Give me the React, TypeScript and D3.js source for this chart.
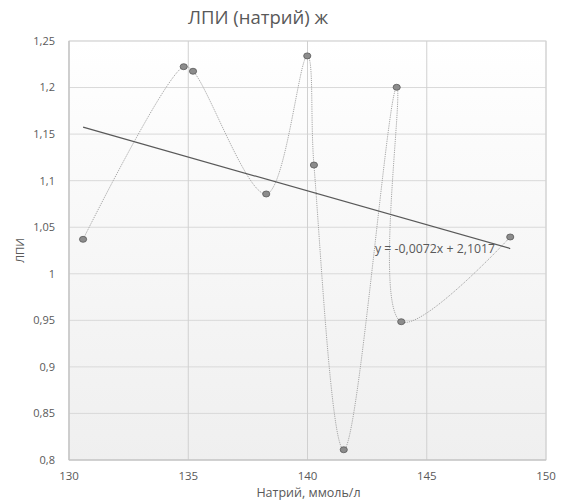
import React from "react";
import * as d3 from "d3";

const sodium = [130.59, 134.81, 135.2, 138.27, 139.99, 140.27, 141.52, 143.74, 143.93, 148.5];
const lpi = [1.037, 1.2224, 1.2175, 1.0857, 1.234, 1.1168, 0.811, 1.2003, 0.9485, 1.0395];
const xTicks = [130, 135, 140, 145, 150];
const yTicks = [0.8, 0.85, 0.9, 0.95, 1, 1.05, 1.1, 1.15, 1.2, 1.25];
const slope = -0.0072;
const intercept = 2.1017;
const titleText = "ЛПИ (натрий) ж";
const xTitle = "Натрий, ммоль/л";
const yTitle = "ЛПИ";
const equation = "y = -0,0072x + 2,1017";

const W = 571;
const H = 504;
const M = { left: 69, right: 546, top: 41, bottom: 460 };
const FONT = "'Open Sans', 'Noto Sans', sans-serif";
const TXT = "#595959";

const fmt = (v: number) => String(+v.toFixed(2)).replace(".", ",");

export default function App() {
  const x = d3.scaleLinear().domain([130, 150]).range([M.left, M.right]);
  const y = d3.scaleLinear().domain([0.8, 1.25]).range([M.bottom, M.top]);
  const pts: [number, number][] = sodium.map((s, i) => [s, lpi[i]]);
  const line = d3
    .line<[number, number]>()
    .x((d) => x(d[0]))
    .y((d) => y(d[1]))
    .curve(d3.curveCatmullRom.alpha(0.5));
  const xMin = d3.min(sodium)!;
  const xMax = d3.max(sodium)!;
  const mx = d3.mean(sodium)!;
  const my = d3.mean(lpi)!;
  const b = d3.sum(sodium.map((s, i) => (s - mx) * (lpi[i] - my))) / d3.sum(sodium.map((s) => (s - mx) ** 2));
  const a = my - b * mx;
  const trend = (v: number) => (Number.isFinite(b) ? a + b * v : intercept + slope * v);

  return (
    <svg
      width={W}
      height={H}
      style={{ position: "absolute", left: 0, top: 0, background: "#fff" }}
      fontFamily={FONT}
    >
      <defs>
        <linearGradient id="bg" x1="0" y1="0" x2="0" y2="1">
          <stop offset="0" stopColor="#ffffff" />
          <stop offset="1" stopColor="#efefef" />
        </linearGradient>
      </defs>
      <rect x={0} y={0} width={W} height={H} fill="#fff" />
      <rect
        x={M.left}
        y={M.top}
        width={M.right - M.left}
        height={M.bottom - M.top}
        fill="url(#bg)"
        stroke="#d9d9d9"
        strokeWidth={1}
      />
      {yTicks.map((t) => (
        <line key={"gy" + t} x1={M.left} x2={M.right} y1={y(t)} y2={y(t)} stroke="#d9d9d9" strokeWidth={1} />
      ))}
      {xTicks.map((t) => (
        <line key={"gx" + t} x1={x(t)} x2={x(t)} y1={M.top} y2={M.bottom} stroke="#d0d0d0" strokeWidth={1} />
      ))}
      <line x1={M.left} x2={M.right} y1={M.bottom} y2={M.bottom} stroke="#bfbfbf" strokeWidth={1} />
      <line x1={M.left} x2={M.left} y1={M.top} y2={M.bottom} stroke="#bfbfbf" strokeWidth={1} />
      {yTicks.map((t) => (
        <text key={"ty" + t} x={55} y={y(t)} dy="0.35em" textAnchor="end" fontSize={11} fill={TXT}>
          {fmt(t)}
        </text>
      ))}
      {xTicks.map((t) => (
        <text key={"tx" + t} x={x(t)} y={476} dy="0.35em" textAnchor="middle" fontSize={11.5} fill={TXT}>
          {t}
        </text>
      ))}
      <text x={(M.left + M.right) / 2 + 1} y={493} dy="0.35em" textAnchor="middle" fontSize={12.5} fill={TXT}>
        {xTitle}
      </text>
      <text
        transform={`translate(20,${(M.top + M.bottom) / 2}) rotate(-90)`}
        dy="0.35em"
        textAnchor="middle"
        fontSize={11.5}
        fill={TXT}
      >
        {yTitle}
      </text>
      <text x={258} y={18} dy="0.35em" textAnchor="middle" fontSize={18.5} fill={TXT}>
        {titleText}
      </text>
      <path d={line(pts) || ""} fill="none" stroke="#a6a6a6" strokeWidth={1} strokeDasharray="1.2 1" />
      <line
        x1={x(xMin)}
        y1={y(trend(xMin))}
        x2={x(xMax)}
        y2={y(trend(xMax))}
        stroke="#595959"
        strokeWidth={1.2}
      />
      <text x={375} y={249} dy="0.35em" fontSize={12.3} fill={TXT}>
        {equation}
      </text>
      {pts.map((p, i) => (
        <ellipse key={"p" + i} cx={x(p[0])} cy={y(p[1])} rx={3.6} ry={3} fill="#8c8c8c" stroke="#595959" strokeWidth={0.8} />
      ))}
    </svg>
  );
}
